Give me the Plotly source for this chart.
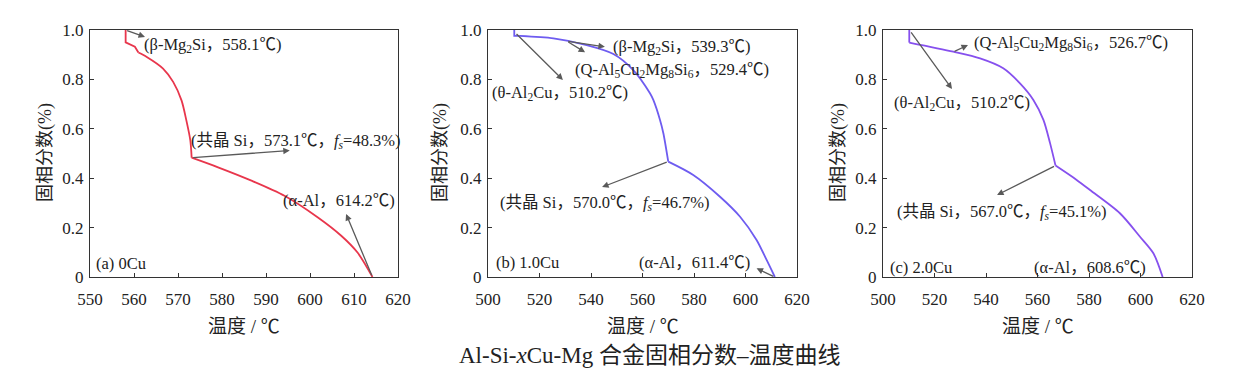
import plotly.graph_objects as go

# ---------------- data ----------------
# (a) 0Cu
temp_a = [558.1, 558.1, 560.2, 561.0, 562.9, 566.6, 568.9, 570.8, 571.9, 572.8, 573.1,
          579.1, 586.7, 594.2, 601.8, 607.1, 610.8, 614.2]
fs_a = [1.0, 0.950, 0.932, 0.909, 0.891, 0.844, 0.790, 0.715, 0.634, 0.553, 0.483,
        0.444, 0.390, 0.329, 0.241, 0.167, 0.099, 0.0]
# (b) 1.0Cu
temp_b = [510.2, 510.2, 512.4, 525.4, 538.3, 548.7, 556.4, 562.9, 564.2, 566.8, 568.1, 570.0,
          579.7, 590.1, 597.9, 604.3, 608.2, 611.4]
fs_b = [1.0, 0.976, 0.976, 0.966, 0.939, 0.903, 0.838, 0.744, 0.717, 0.636, 0.582, 0.467,
        0.413, 0.325, 0.244, 0.150, 0.069, 0.0]
# (c) 2.0Cu
temp_c = [510.2, 510.2, 527.3, 537.7, 546.7, 553.2, 558.4, 562.3, 564.9, 567.0,
          575.2, 580.4, 592.0, 599.8, 605.0, 608.6]
fs_c = [1.0, 0.949, 0.912, 0.885, 0.845, 0.784, 0.717, 0.636, 0.541, 0.451,
        0.393, 0.352, 0.258, 0.163, 0.096, 0.0]

# index where smooth part starts, and index of eutectic kink
breaks_a = (3, 10)
breaks_b = (2, 11)
breaks_c = (1, 9)

y_tickvals = [0, 0.2, 0.4, 0.6, 0.8, 1.0]
y_ticktext = ["0", "0.2", "0.4", "0.6", "0.8", "1.0"]
x_ticks_a = [550, 560, 570, 580, 590, 600, 610, 620]
x_ticks_bc = [500, 520, 540, 560, 580, 600, 620]

panel_labels = ["(a) 0Cu", "(b) 1.0Cu", "(c) 2.0Cu"]
x_title = "温度 / ℃"
y_title = "固相分数(%)"
fig_title = "Al-Si-<i>x</i>Cu-Mg 合金固相分数–温度曲线"

# annotation texts
lab_a = ["(β-Mg<sub>2</sub>Si，558.1℃)",
         "(共晶 Si，573.1℃，<i>f</i><sub><i>s</i></sub>=48.3%)",
         "(α-Al，614.2℃)"]
lab_b = ["(β-Mg<sub>2</sub>Si，539.3℃)",
         "(Q-Al<sub>5</sub>Cu<sub>2</sub>Mg<sub>8</sub>Si<sub>6</sub>，529.4℃)",
         "(θ-Al<sub>2</sub>Cu，510.2℃)",
         "(共晶 Si，570.0℃，<i>f</i><sub><i>s</i></sub>=46.7%)",
         "(α-Al，611.4℃)"]
lab_c = ["(Q-Al<sub>5</sub>Cu<sub>2</sub>Mg<sub>8</sub>Si<sub>6</sub>，526.7℃)",
         "(θ-Al<sub>2</sub>Cu，510.2℃)",
         "(共晶 Si，567.0℃，<i>f</i><sub><i>s</i></sub>=45.1%)",
         "(α-Al，608.6℃)"]

FONT = "Liberation Serif, Noto Sans CJK SC, serif"
TXT = "#222222"
ARROW = "#5a5a5a"
W, H = 1250, 375
OFF = 8  # page body margin offset


def px_x(p):
    return (p - OFF) / W


def px_y(p):
    return 1 - (p - OFF) / H


fig = go.Figure()


def add_curve(tx, fy, brk, color, xa, ya):
    i0, ik = brk
    fig.add_trace(go.Scatter(x=tx[:i0 + 1], y=fy[:i0 + 1], mode="lines",
                             line=dict(color=color, width=1.8),
                             xaxis=xa, yaxis=ya, showlegend=False, hoverinfo="skip"))
    fig.add_trace(go.Scatter(x=tx[i0:ik + 1], y=fy[i0:ik + 1], mode="lines",
                             line=dict(color=color, width=1.8, shape="spline", smoothing=0.8),
                             xaxis=xa, yaxis=ya, showlegend=False, hoverinfo="skip"))
    fig.add_trace(go.Scatter(x=tx[ik:], y=fy[ik:], mode="lines",
                             line=dict(color=color, width=1.8, shape="spline", smoothing=0.8),
                             xaxis=xa, yaxis=ya, showlegend=False, hoverinfo="skip"))


add_curve(temp_a, fs_a, breaks_a, "#E8364C", "x", "y")
add_curve(temp_b, fs_b, breaks_b, "#6E5CF0", "x2", "y2")
add_curve(temp_c, fs_c, breaks_c, "#8650EE", "x3", "y3")

doms = [(px_x(90), px_x(398)), (px_x(488), px_x(797)), (px_x(883), px_x(1192))]
ydom = (px_y(277), px_y(30))


def xaxis_def(dom, rng, ticks, anchor):
    return dict(domain=list(dom), range=rng, tickvals=ticks, ticks="inside", ticklen=4,
                tickcolor="#333", showline=True, linecolor="#333", linewidth=1.2, mirror=True,
                showgrid=False, zeroline=False, anchor=anchor, automargin=False,
                tickfont=dict(family=FONT, size=17, color=TXT), ticklabelstandoff=6)


def yaxis_def(rng, anchor):
    return dict(domain=list(ydom), range=rng, tickvals=y_tickvals, ticktext=y_ticktext,
                ticks="inside", ticklen=4, tickcolor="#333", showline=True, linecolor="#333",
                linewidth=1.2, mirror=True, showgrid=False, zeroline=False, anchor=anchor,
                automargin=False,
                tickfont=dict(family=FONT, size=17, color=TXT), ticklabelstandoff=2)


fig.update_layout(
    width=W, height=H, margin=dict(l=0, r=0, t=0, b=0, autoexpand=False),
    paper_bgcolor="white", plot_bgcolor="white",
    xaxis=xaxis_def(doms[0], [550, 620], x_ticks_a, "y"),
    yaxis=yaxis_def([0, 1.0], "x"),
    xaxis2=xaxis_def(doms[1], [500, 620], x_ticks_bc, "y2"),
    yaxis2=yaxis_def([0, 1.0], "x2"),
    xaxis3=xaxis_def(doms[2], [500, 620], x_ticks_bc, "y3"),
    yaxis3=yaxis_def([0, 1.0], "x3"),
)

ann = []


def text(xr, yr, x, y, s, size=16.5):
    ann.append(dict(xref=xr, yref=yr, x=x, y=y, text=s, showarrow=False, xanchor="left",
                    yanchor="middle", font=dict(family=FONT, size=size, color=TXT)))


def arrow(xr, yr, x0, y0, x1, y1):
    ann.append(dict(xref=xr, yref=yr, axref=xr, ayref=yr, x=x1, y=y1, ax=x0, ay=y0, text="",
                    showarrow=True, arrowhead=2, arrowsize=1, arrowwidth=1.3, arrowcolor=ARROW))


# panel a
arrow("x", "y", 558.1, 1.0, 562.5, 0.972)
arrow("x", "y", 573.1, 0.483, 595.4, 0.512)
arrow("x", "y", 614.2, 0.0, 608.2, 0.255)
text("x", "y", 561.8, 0.939, lab_a[0])
text("x", "y", 572.6, 0.549, lab_a[1])
text("x", "y", 593.3, 0.309, lab_a[2])
text("x", "y", 551.0, 0.053, panel_labels[0])

# panel b
arrow("x2", "y2", 510.5, 0.99, 529.1, 0.798)
arrow("x2", "y2", 530.6, 0.955, 545.4, 0.932)
arrow("x2", "y2", 530.6, 0.955, 537.7, 0.910)
arrow("x2", "y2", 570.0, 0.467, 544.3, 0.364)
arrow("x2", "y2", 611.4, 0.0, 604.3, 0.035)
text("x2", "y2", 547.8, 0.932, lab_b[0])
text("x2", "y2", 533.2, 0.838, lab_b[1])
text("x2", "y2", 500.6, 0.744, lab_b[2])
text("x2", "y2", 503.7, 0.300, lab_b[3])
text("x2", "y2", 558.0, 0.057, lab_b[4])
text("x2", "y2", 502.3, 0.057, panel_labels[1])

# panel c
arrow("x3", "y3", 527.2, 0.911, 533.0, 0.939)
arrow("x3", "y3", 510.5, 0.996, 526.8, 0.761)
arrow("x3", "y3", 567.0, 0.451, 544.3, 0.332)
text("x3", "y3", 534.7, 0.947, lab_c[0])
text("x3", "y3", 503.3, 0.704, lab_c[1])
text("x3", "y3", 504.5, 0.263, lab_c[2])
text("x3", "y3", 558.0, 0.040, lab_c[3])
text("x3", "y3", 501.9, 0.040, panel_labels[2])

# axis titles
for (d0, d1), xc in zip(doms, [45, 440, 838]):
    ann.append(dict(xref="paper", yref="paper", x=(d0 + d1) / 2, y=px_y(326), text=x_title,
                    showarrow=False, xanchor="center", yanchor="middle",
                    font=dict(family=FONT, size=19, color=TXT)))
    ann.append(dict(xref="paper", yref="paper", x=px_x(xc), y=px_y(153), text=y_title,
                    showarrow=False, xanchor="center", yanchor="middle", textangle=-90,
                    font=dict(family=FONT, size=18, color=TXT)))

ann.append(dict(xref="paper", yref="paper", x=px_x(650), y=px_y(355), text=fig_title,
                showarrow=False, xanchor="center", yanchor="middle",
                font=dict(family=FONT, size=23, color=TXT)))

fig.update_layout(annotations=ann)
fig.write_html("out.html")
